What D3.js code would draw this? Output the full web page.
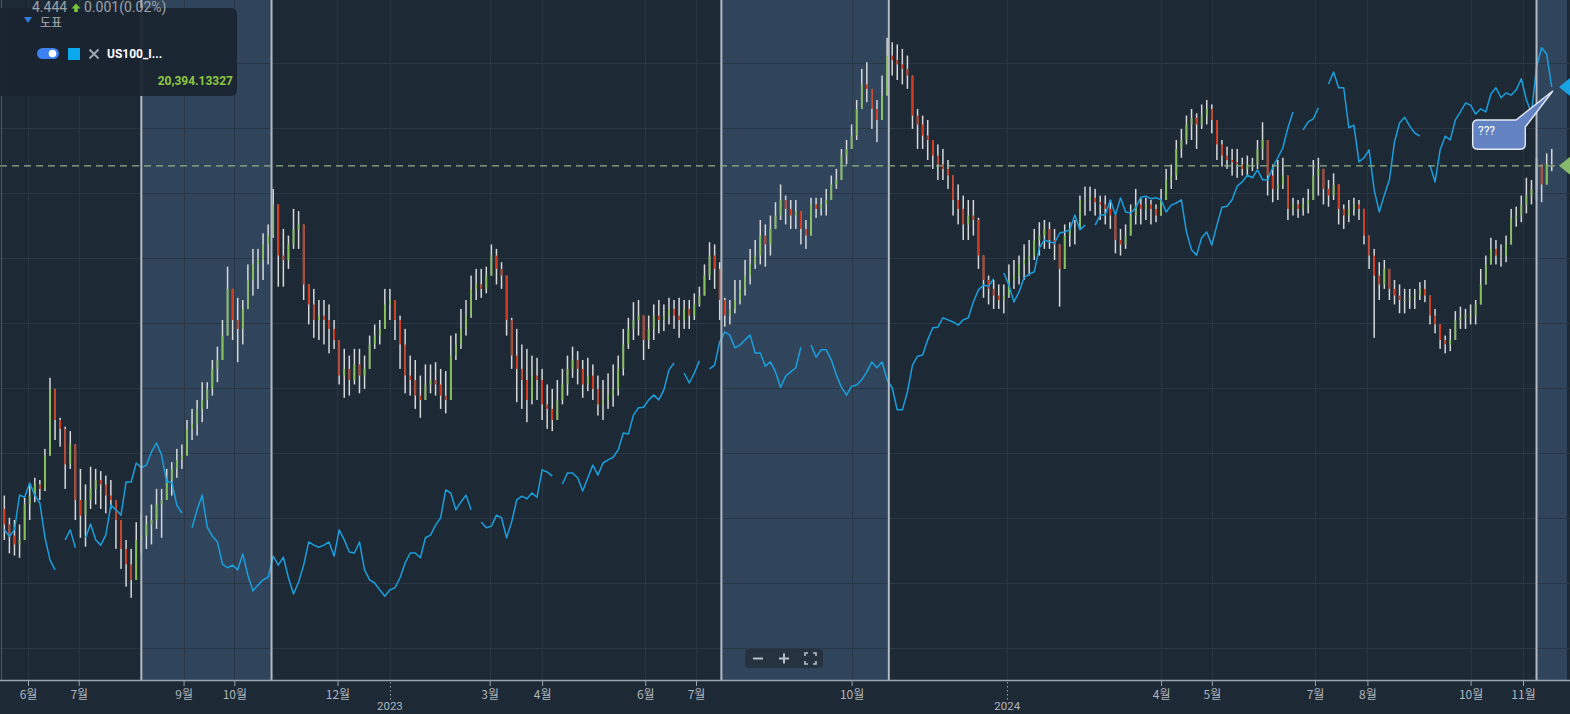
<!DOCTYPE html>
<html><head><meta charset="utf-8">
<script src="https://cdn.jsdelivr.net/npm/d3@7"></script>
<style>
html,body{margin:0;padding:0;background:#1e2936;overflow:hidden}
svg{display:block}
</style></head><body>
<svg id="chart" width="1570" height="714"></svg>
<script>
// ---------- DATA ----------
const startDate = new Date(2022, 4, 18);   // first bar
const stepDays = 3;                         // one bar every 3 calendar days

// US 10Y yield (%) candles
const yieldHigh = [2.96,2.86,2.85,2.83,2.95,3.01,3.04,3.03,3.17,3.49,
3.39,3.31,3.27,3.25,3.17,3.08,3.01,3.09,3.08,3.07,
3.05,3.03,2.93,2.81,2.76,2.72,2.84,2.88,2.87,2.92,
2.99,2.99,3.08,3.11,3.17,3.19,3.30,3.35,3.39,3.47,
3.47,3.57,3.63,3.75,3.99,3.89,3.85,3.84,4.00,4.07,
4.07,4.14,4.18,4.34,4.22,4.16,4.13,4.25,4.24,4.11,
3.90,3.89,3.84,3.84,3.82,3.75,3.64,3.62,3.59,3.62,
3.62,3.59,3.68,3.73,3.75,3.89,3.89,3.84,3.77,3.71,
3.59,3.57,3.50,3.55,3.55,3.56,3.53,3.52,3.68,3.69,
3.80,3.84,3.95,3.98,3.98,3.99,4.09,4.07,4.01,3.90,
3.76,3.71,3.64,3.62,3.59,3.58,3.53,3.46,3.44,3.48,
3.53,3.59,3.63,3.61,3.57,3.58,3.55,3.50,3.48,3.51,
3.55,3.59,3.71,3.76,3.83,3.84,3.75,3.77,3.82,3.84,
3.82,3.85,3.84,3.85,3.84,3.84,3.87,3.90,4.00,4.10,
4.09,4.01,3.85,3.84,3.93,3.93,4.02,4.07,4.11,4.20,
4.18,4.22,4.28,4.36,4.31,4.29,4.29,4.22,4.20,4.30,
4.30,4.30,4.34,4.40,4.43,4.52,4.56,4.63,4.74,4.88,
4.91,4.76,4.74,4.85,5.02,5.00,4.99,4.97,4.94,4.83,
4.70,4.67,4.65,4.56,4.54,4.52,4.47,4.39,4.36,4.31,
4.29,4.29,4.21,4.02,3.95,3.93,3.91,3.91,4.00,4.02,
4.04,4.09,4.11,4.16,4.19,4.20,4.19,4.16,4.07,4.18,
4.19,4.20,4.31,4.35,4.35,4.34,4.31,4.31,4.29,4.18,
4.16,4.18,4.27,4.34,4.30,4.30,4.29,4.27,4.34,4.43,
4.45,4.56,4.61,4.67,4.70,4.68,4.72,4.74,4.72,4.61,
4.56,4.53,4.52,4.52,4.48,4.49,4.48,4.56,4.64,4.52,
4.45,4.47,4.48,4.31,4.30,4.29,4.30,4.34,4.47,4.48,
4.40,4.38,4.41,4.29,4.27,4.29,4.30,4.29,4.20,4.13,
4.07,4.01,4.02,3.95,3.93,3.91,3.89,3.89,3.89,3.92,
3.93,3.84,3.80,3.71,3.68,3.71,3.79,3.81,3.80,3.82,
3.84,3.98,4.04,4.12,4.11,4.09,4.13,4.25,4.26,4.31,
4.39,4.38,4.48,4.43,4.50,4.52];

const yieldLow = [2.76,2.70,2.69,2.68,2.81,2.85,2.93,2.94,2.98,3.18,
3.21,3.18,2.99,3.08,2.85,2.77,2.73,2.90,2.92,2.90,
2.88,2.90,2.72,2.63,2.55,2.50,2.66,2.70,2.72,2.74,
2.81,2.77,2.94,2.96,3.04,3.08,3.17,3.21,3.23,3.29,
3.35,3.41,3.47,3.57,3.69,3.66,3.56,3.64,3.83,3.86,
3.89,3.93,4.00,4.12,3.90,3.90,3.98,4.07,4.07,3.84,
3.73,3.67,3.66,3.64,3.60,3.62,3.46,3.40,3.41,3.46,
3.42,3.44,3.57,3.62,3.64,3.72,3.75,3.66,3.53,3.42,
3.41,3.35,3.31,3.39,3.42,3.41,3.35,3.33,3.50,3.57,
3.62,3.68,3.76,3.84,3.85,3.87,3.98,3.91,3.89,3.68,
3.53,3.38,3.35,3.29,3.37,3.39,3.30,3.26,3.25,3.33,
3.37,3.41,3.49,3.46,3.40,3.43,3.39,3.32,3.30,3.35,
3.36,3.41,3.50,3.62,3.66,3.68,3.57,3.62,3.66,3.69,
3.70,3.73,3.71,3.67,3.71,3.71,3.75,3.81,3.86,3.93,
3.89,3.75,3.72,3.73,3.78,3.82,3.86,3.91,3.98,4.00,
3.99,4.04,4.16,4.20,4.18,4.16,4.16,4.09,4.07,4.20,
4.21,4.22,4.22,4.30,4.34,4.43,4.45,4.52,4.56,4.70,
4.73,4.61,4.55,4.70,4.83,4.85,4.83,4.81,4.79,4.61,
4.52,4.52,4.47,4.43,4.38,4.38,4.34,4.22,4.18,4.11,
4.11,4.13,3.98,3.85,3.82,3.80,3.80,3.78,3.85,3.89,
3.91,3.93,3.95,4.02,4.04,4.07,4.07,4.02,3.81,4.04,
4.08,4.09,4.20,4.22,4.24,4.22,4.20,4.18,4.16,4.05,
4.04,4.07,4.13,4.18,4.18,4.20,4.18,4.19,4.22,4.31,
4.34,4.38,4.48,4.54,4.56,4.52,4.61,4.63,4.59,4.47,
4.44,4.43,4.40,4.39,4.40,4.40,4.42,4.43,4.47,4.31,
4.28,4.29,4.34,4.20,4.22,4.21,4.22,4.23,4.29,4.31,
4.27,4.26,4.29,4.18,4.16,4.19,4.22,4.20,4.09,3.98,
3.67,3.84,3.89,3.84,3.82,3.78,3.78,3.80,3.80,3.84,
3.83,3.73,3.69,3.62,3.60,3.61,3.68,3.71,3.71,3.73,
3.73,3.82,3.91,4.01,4.00,3.99,4.01,4.17,4.17,4.19,
4.23,4.27,4.29,4.28,4.39,4.42];

const yieldClose = [2.83,2.78,2.74,2.76,2.92,2.96,3.01,2.99,3.14,3.44,
3.30,3.26,3.10,3.19,2.94,2.87,2.94,2.99,3.03,3.01,
2.96,2.94,2.85,2.72,2.65,2.58,2.76,2.78,2.83,2.85,
2.92,2.94,3.03,3.08,3.12,3.14,3.26,3.28,3.35,3.39,
3.44,3.53,3.57,3.68,3.89,3.75,3.71,3.80,3.93,4.00,
4.02,4.09,4.13,4.27,4.04,4.02,4.09,4.16,4.18,3.91,
3.82,3.75,3.77,3.75,3.71,3.66,3.50,3.53,3.48,3.55,
3.50,3.53,3.64,3.68,3.71,3.82,3.84,3.75,3.64,3.50,
3.48,3.41,3.39,3.46,3.48,3.46,3.41,3.39,3.59,3.64,
3.71,3.77,3.89,3.91,3.89,3.95,4.04,3.98,3.95,3.75,
3.59,3.53,3.48,3.39,3.50,3.48,3.37,3.35,3.30,3.39,
3.46,3.53,3.57,3.53,3.46,3.50,3.44,3.37,3.39,3.41,
3.44,3.53,3.64,3.71,3.75,3.77,3.66,3.71,3.77,3.75,
3.77,3.80,3.77,3.75,3.80,3.77,3.82,3.86,3.95,4.04,
3.98,3.84,3.77,3.80,3.84,3.89,3.95,4.00,4.04,4.13,
4.09,4.16,4.22,4.29,4.25,4.22,4.24,4.16,4.13,4.27,
4.25,4.27,4.29,4.36,4.38,4.49,4.52,4.58,4.70,4.81,
4.79,4.70,4.65,4.76,4.94,4.92,4.90,4.88,4.85,4.67,
4.63,4.58,4.56,4.49,4.45,4.43,4.40,4.29,4.25,4.18,
4.22,4.20,4.04,3.93,3.89,3.86,3.84,3.86,3.93,3.95,
4.00,4.02,4.04,4.11,4.13,4.16,4.11,4.09,3.98,4.13,
4.16,4.16,4.29,4.29,4.30,4.28,4.27,4.25,4.22,4.11,
4.09,4.13,4.22,4.27,4.25,4.27,4.25,4.22,4.29,4.38,
4.40,4.52,4.56,4.63,4.66,4.63,4.67,4.70,4.65,4.54,
4.49,4.47,4.46,4.45,4.43,4.45,4.45,4.52,4.56,4.40,
4.34,4.36,4.40,4.25,4.27,4.25,4.27,4.29,4.40,4.43,
4.34,4.31,4.36,4.25,4.22,4.25,4.27,4.25,4.13,4.04,
3.95,3.91,3.98,3.89,3.86,3.84,3.84,3.85,3.86,3.89,
3.86,3.77,3.73,3.66,3.64,3.66,3.75,3.76,3.77,3.77,
3.82,3.91,4.00,4.07,4.04,4.04,4.09,4.21,4.22,4.27,
4.31,4.34,4.45,4.36,4.45,4.444];
const firstOpen = 2.90;

// US100 index (line), null = no data on that bar
const us100 = [11980,11860,11980,12640,12600,12870,12640,12490,11840,11410,
11220,null,11790,11980,11640,null,11830,12090,11790,11690,
11880,12450,12360,12260,12890,12890,13250,13160,13210,13460,
13630,13400,12890,12890,12450,12300,null,12020,12360,12640,
12030,11860,11750,11330,11260,11310,11220,11520,11120,10820,
10930,11030,11080,11480,11310,11460,11070,10760,10990,11310,
11750,11690,11650,11690,11750,11480,11980,11790,11560,11540,
11750,11220,11030,10970,10840,10720,10840,10880,11070,11350,
11540,11540,11450,11830,11880,12070,12210,12740,12680,12360,
12510,12640,12360,null,12130,12020,12050,12260,12210,11830,
12130,12550,12620,12570,12680,12600,13120,13080,13000,null,
12850,13060,13060,12970,12720,12970,13210,13020,13250,13310,
13360,13500,13820,13800,14160,14300,14310,14450,14540,14450,
14640,15020,15150,null,14960,14770,14960,15190,null,15040,
15110,15550,15740,15680,15440,15490,15590,15680,15340,15340,
15090,15170,14980,14690,14900,14980,15060,15450,null,15490,
15260,15400,15400,15210,14920,14690,14540,14710,14730,14830,
14980,15170,15060,15170,14830,14680,14260,14260,14600,15110,
15280,15300,15590,15820,15830,16010,15970,15930,15870,15970,
16010,16310,16540,16630,16610,16750,null,16860,16630,16310,
16500,16770,16840,16880,17340,17490,17450,17430,17620,17640,
17680,17960,17680,17770,null,17770,17960,17960,18250,17960,
18290,18020,18000,18100,18300,18320,18270,18290,18250,18020,
18150,18190,18250,17640,17300,17200,17530,17640,17390,17770,
18110,18130,18250,18510,18590,18720,18670,18820,18630,18630,
18860,19050,19240,19620,19920,null,19580,19730,19790,20000,
null,20450,20680,20380,20380,19620,19670,18970,19050,19200,
18440,18020,18340,18630,19350,19710,19820,19650,19520,19460,
null,18910,18590,19200,19460,19390,19770,19920,20090,20050,
19880,19980,19920,20260,20380,20190,20280,20240,20340,20550,
20150,19900,20770,21140,21020,20394.13327];

const lastYieldText = "4.444";
const changeText = "0.001(0.02%)";
const lastYield = 4.444;
const seriesName = "US100_I...";
const lastUS100Text = "20,394.13327";
const lastUS100 = 20394.13327;

const monthTicks = [new Date(2022,5,1), new Date(2022,6,1), new Date(2022,8,1), new Date(2022,9,1), new Date(2022,11,1),
  new Date(2023,2,1), new Date(2023,3,1), new Date(2023,5,1), new Date(2023,6,1), new Date(2023,9,1),
  new Date(2024,3,1), new Date(2024,4,1), new Date(2024,6,1), new Date(2024,7,1), new Date(2024,9,1), new Date(2024,10,1)];
const monthLabels = ["6월","7월","9월","10월","12월","3월","4월","6월","7월","10월","4월","5월","7월","8월","10월","11월"];
const yearTicks = [new Date(2023,0,1), new Date(2024,0,1)];
const yearLabels = ["2023","2024"];

const bandStarts = [new Date(2022,7,7), new Date(2023,6,16), new Date(2024,10,9)];
const bandEnds   = [new Date(2022,9,23), new Date(2023,9,23), new Date(2024,10,27)];

// ---------- CHART ----------
const W = 1570, H = 714, plotBottom = 680;
const svg = d3.select("#chart");
const dates = yieldClose.map((_, i) => d3.timeDay.offset(startDate, stepDays * i));

const x = d3.scaleTime().domain([new Date(2022,5,1), new Date(2024,10,1)]).range([28, 1523]);
const yC = d3.scaleLinear().domain([1.977, 5.19]).range([H, 0]);
const yB = d3.scaleLinear().domain([8481, 22047]).range([H, 0]);

svg.append("rect").attr("width", W).attr("height", H).attr("fill", "#1e2936");

// shaded bands
svg.append("g").selectAll("rect").data(bandStarts).join("rect")
  .attr("x", d => x(d)).attr("y", 0)
  .attr("width", (d, i) => x(bandEnds[i]) - x(d)).attr("height", plotBottom)
  .attr("fill", "#30445c");

// grid
const grid = svg.append("g").attr("stroke", "#293643").attr("stroke-width", 1);
grid.selectAll("line.v").data(monthTicks.concat(yearTicks)).join("line")
  .attr("x1", d => Math.round(x(d)) + 0.5).attr("x2", d => Math.round(x(d)) + 0.5)
  .attr("y1", 0).attr("y2", plotBottom);
grid.selectAll("line.h").data(d3.range(63.5, plotBottom, 65)).join("line")
  .attr("x1", 0).attr("x2", W).attr("y1", d => d).attr("y2", d => d);

// candles
const opens = yieldClose.map((c, i) => i === 0 ? firstOpen : yieldClose[i - 1]);
const cg = svg.append("g");
cg.selectAll("rect.w").data(dates).join("rect")
  .attr("x", d => x(d) - 0.75).attr("width", 1.5)
  .attr("y", (d, i) => yC(Math.max(yieldHigh[i], opens[i], yieldClose[i])))
  .attr("height", (d, i) => yC(Math.min(yieldLow[i], opens[i], yieldClose[i])) - yC(Math.max(yieldHigh[i], opens[i], yieldClose[i])))
  .attr("fill", "#d6d8da");
cg.selectAll("rect.b").data(dates).join("rect")
  .attr("x", d => x(d) - 0.9).attr("width", 1.8)
  .attr("y", (d, i) => yC(Math.max(opens[i], yieldClose[i])))
  .attr("height", (d, i) => Math.max(1, Math.abs(yC(opens[i]) - yC(yieldClose[i]))))
  .attr("fill", (d, i) => yieldClose[i] >= opens[i] ? "#86c05a" : "#cf3a1c");

// US100 line
const line = d3.line().defined(d => d[1] !== null).x(d => x(d[0])).y(d => yB(d[1]));
svg.append("path").datum(dates.map((d, i) => [d, us100[i]]))
  .attr("d", line).attr("fill", "none").attr("stroke", "#1a9fdc").attr("stroke-width", 1.5)
  .attr("stroke-linejoin", "round");

// band edge lines
svg.append("g").selectAll("line").data(bandStarts.concat(bandEnds.slice(0, 2))).join("line")
  .attr("x1", d => x(d)).attr("x2", d => x(d)).attr("y1", 0).attr("y2", plotBottom)
  .attr("stroke", "#b3bac3").attr("stroke-width", 2);

// last value dashed line
svg.append("line").attr("x1", 0).attr("x2", W).attr("y1", yC(lastYield)).attr("y2", yC(lastYield))
  .attr("stroke", "#8fae86").attr("stroke-width", 1.2).attr("stroke-dasharray", "7,5");

// left edge + axis baseline
svg.append("line").attr("x1", 1.5).attr("x2", 1.5).attr("y1", 0).attr("y2", plotBottom).attr("stroke", "#4d5965");
svg.append("line").attr("x1", 0).attr("x2", W).attr("y1", plotBottom + 0.5).attr("y2", plotBottom + 0.5)
  .attr("stroke", "#9aa2ab").attr("stroke-width", 1.5);

// x axis
const axisG = svg.append("g").attr("transform", `translate(0,${plotBottom + 1})`);
axisG.call(d3.axisBottom(x).tickValues(monthTicks).tickFormat((d, i) => monthLabels[i]).tickSize(5).tickPadding(4));
axisG.select(".domain").remove();
axisG.selectAll(".tick line").attr("stroke", "#9aa2ab");
axisG.selectAll(".tick text").attr("fill", "#aeb5bd")
  .style("font-family", "'Noto Sans CJK KR', 'Noto Sans', sans-serif").style("font-size", "12px");
const yg = svg.append("g");
yg.selectAll("line").data(yearTicks).join("line")
  .attr("x1", d => Math.round(x(d)) + 0.5).attr("x2", d => Math.round(x(d)) + 0.5)
  .attr("y1", plotBottom + 2).attr("y2", plotBottom + 20)
  .attr("stroke", "#9aa2ab").attr("stroke-dasharray", "1.5,2.5");
yg.selectAll("text").data(yearTicks).join("text")
  .attr("x", d => x(d)).attr("y", 710).attr("text-anchor", "middle")
  .attr("fill", "#aeb5bd").style("font-family", "Roboto, sans-serif").style("font-size", "11.5px")
  .text((d, i) => yearLabels[i]);

// right markers
function diamond(cy, color) {
  const cx = 1570;
  svg.append("path").attr("d", `M${cx - 11},${cy} L${cx},${cy - 9} L${cx + 11},${cy} L${cx},${cy + 9} Z`).attr("fill", color);
}
diamond(yB(lastUS100), "#18a4e4");
diamond(yC(lastYield), "#86bb6a");

// speech bubble
const tipX = x(dates[dates.length - 1]) + 1, tipY = yB(lastUS100) + 4;
svg.append("path")
  .attr("d", `M1477.7,120 L1516,120 L${tipX},${tipY} L1525.3,127 L1525.3,144.3 Q1525.3,149.3 1520.3,149.3 L1477.7,149.3 Q1472.7,149.3 1472.7,144.3 L1472.7,125 Q1472.7,120 1477.7,120 Z`)
  .attr("fill", "#6282c2").attr("stroke", "#e4eaf4").attr("stroke-width", 1.4);
svg.append("text").attr("x", 1478).attr("y", 135).attr("fill", "#ffffff")
  .style("font-family", "Roboto, sans-serif").style("font-size", "12px").text("???");

// zoom control
const zc = svg.append("g");
zc.append("rect").attr("x", 745).attr("y", 649).attr("width", 78).attr("height", 19).attr("rx", 4).attr("fill", "#26323f");
zc.append("line").attr("x1", 753).attr("x2", 763).attr("y1", 658.5).attr("y2", 658.5).attr("stroke", "#b7bfc8").attr("stroke-width", 2);
zc.append("line").attr("x1", 779).attr("x2", 789).attr("y1", 658.5).attr("y2", 658.5).attr("stroke", "#b7bfc8").attr("stroke-width", 2);
zc.append("line").attr("x1", 784).attr("x2", 784).attr("y1", 653.5).attr("y2", 663.5).attr("stroke", "#b7bfc8").attr("stroke-width", 2);
zc.append("path").attr("d", "M805,656 V653 H808 M813,653 H816 V656 M816,661 V664 H813 M808,664 H805 V661")
  .attr("fill", "none").attr("stroke", "#b7bfc8").attr("stroke-width", 1.6);

// legend panel
const lg = svg.append("g");
lg.append("rect").attr("x", -8).attr("y", 8).attr("width", 245).attr("height", 88).attr("rx", 6)
  .attr("fill", "#1a2430").attr("opacity", 0.93);
lg.append("text").attr("x", 32).attr("y", 12).attr("fill", "#9ba2a9")
  .style("font-family", "Roboto, sans-serif").style("font-size", "14px").text(lastYieldText);
lg.append("path").attr("d", "M76,3.5 L80.5,8.5 L77.8,8.5 L77.8,12 L74.2,12 L74.2,8.5 L71.5,8.5 Z").attr("fill", "#7cc43d");
lg.append("text").attr("x", 84).attr("y", 12).attr("fill", "#9ba2a9")
  .style("font-family", "Roboto, sans-serif").style("font-size", "14px").text(changeText);
lg.append("path").attr("d", "M24,17 L32,17 L28,23 Z").attr("fill", "#2f7de1");
lg.append("text").attr("x", 40).attr("y", 27).attr("fill", "#aab1b8")
  .style("font-family", "'Noto Sans CJK KR', sans-serif").style("font-size", "12px").text("도표");
lg.append("rect").attr("x", 37).attr("y", 48).attr("width", 22).attr("height", 11).attr("rx", 5.5).attr("fill", "#3b82f0");
lg.append("circle").attr("cx", 52.5).attr("cy", 53.5).attr("r", 3.8).attr("fill", "#ffffff");
lg.append("rect").attr("x", 68).attr("y", 48).attr("width", 12).attr("height", 12).attr("fill", "#0aa8ec");
lg.append("path").attr("d", "M89.5,49.5 L98.5,58.5 M98.5,49.5 L89.5,58.5").attr("stroke", "#a3a9b0").attr("stroke-width", 1.8);
lg.append("text").attr("x", 107).attr("y", 58).attr("fill", "#ffffff")
  .style("font-family", "Roboto, sans-serif").style("font-size", "12px").style("font-weight", "bold").text(seriesName);
lg.append("text").attr("x", 233).attr("y", 85).attr("text-anchor", "end").attr("fill", "#8fc641")
  .style("font-family", "Roboto, sans-serif").style("font-size", "12px").style("font-weight", "bold").text(lastUS100Text);
</script>
</body></html>
